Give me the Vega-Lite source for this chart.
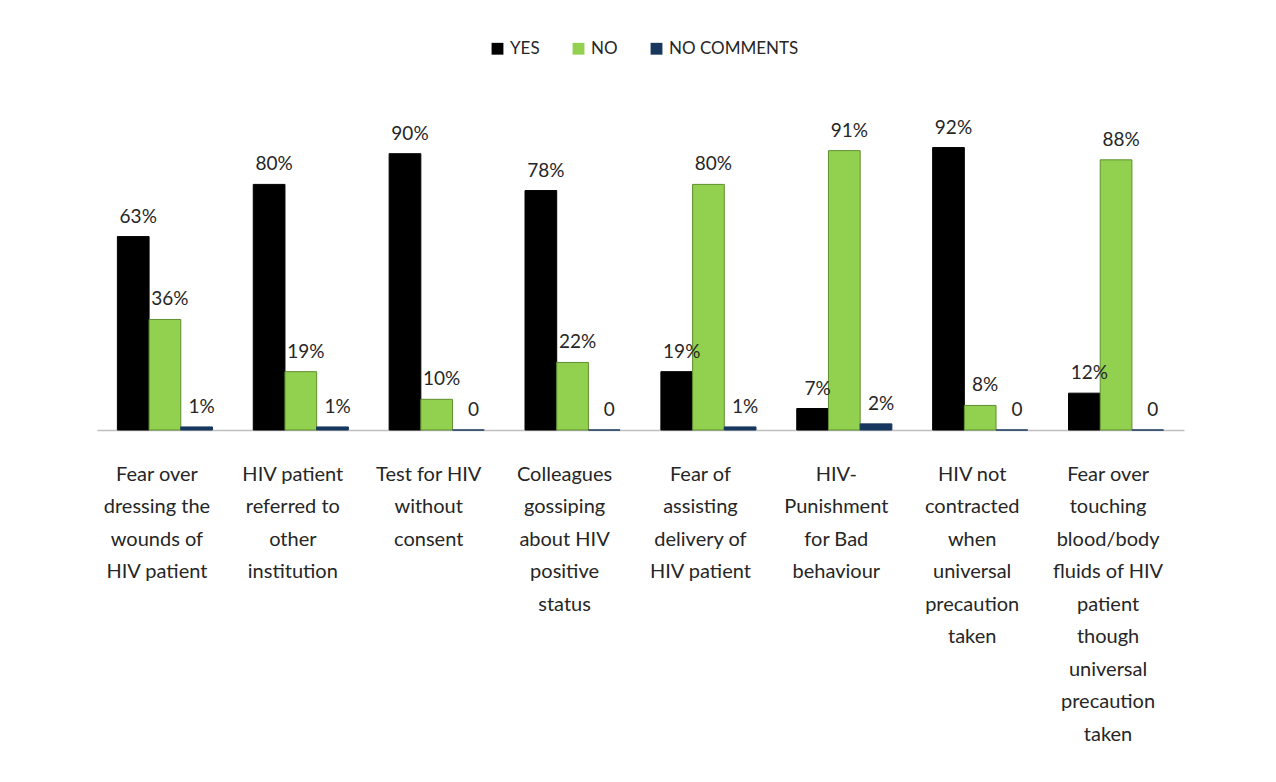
{
  "$schema": "https://vega.github.io/schema/vega-lite/v6.json",
  "width": 1087,
  "height": 307,
  "autosize": {"type": "none"},
  "padding": {"left": 97, "top": 123, "right": 92, "bottom": 352},
  "background": "white",
  "config": {"view": {"stroke": null}, "font": "Lato"},
  "data": {"values": [
    {"category": "Fear over|dressing the|wounds of|HIV patient", "response": "YES", "value": 63, "label": "63%"},
    {"category": "Fear over|dressing the|wounds of|HIV patient", "response": "NO", "value": 36, "label": "36%"},
    {"category": "Fear over|dressing the|wounds of|HIV patient", "response": "NO COMMENTS", "value": 1, "label": "1%"},
    {"category": "HIV patient|referred to|other|institution", "response": "YES", "value": 80, "label": "80%"},
    {"category": "HIV patient|referred to|other|institution", "response": "NO", "value": 19, "label": "19%"},
    {"category": "HIV patient|referred to|other|institution", "response": "NO COMMENTS", "value": 1, "label": "1%"},
    {"category": "Test for HIV|without|consent", "response": "YES", "value": 90, "label": "90%"},
    {"category": "Test for HIV|without|consent", "response": "NO", "value": 10, "label": "10%"},
    {"category": "Test for HIV|without|consent", "response": "NO COMMENTS", "value": 0, "label": "0"},
    {"category": "Colleagues|gossiping|about HIV|positive|status", "response": "YES", "value": 78, "label": "78%"},
    {"category": "Colleagues|gossiping|about HIV|positive|status", "response": "NO", "value": 22, "label": "22%"},
    {"category": "Colleagues|gossiping|about HIV|positive|status", "response": "NO COMMENTS", "value": 0, "label": "0"},
    {"category": "Fear of|assisting|delivery of|HIV patient", "response": "YES", "value": 19, "label": "19%"},
    {"category": "Fear of|assisting|delivery of|HIV patient", "response": "NO", "value": 80, "label": "80%"},
    {"category": "Fear of|assisting|delivery of|HIV patient", "response": "NO COMMENTS", "value": 1, "label": "1%"},
    {"category": "HIV-|Punishment|for Bad|behaviour", "response": "YES", "value": 7, "label": "7%"},
    {"category": "HIV-|Punishment|for Bad|behaviour", "response": "NO", "value": 91, "label": "91%"},
    {"category": "HIV-|Punishment|for Bad|behaviour", "response": "NO COMMENTS", "value": 2, "label": "2%"},
    {"category": "HIV not|contracted|when|universal|precaution|taken", "response": "YES", "value": 92, "label": "92%"},
    {"category": "HIV not|contracted|when|universal|precaution|taken", "response": "NO", "value": 8, "label": "8%"},
    {"category": "HIV not|contracted|when|universal|precaution|taken", "response": "NO COMMENTS", "value": 0, "label": "0"},
    {"category": "Fear over|touching|blood/body|fluids  of HIV|patient|though|universal|precaution|taken", "response": "YES", "value": 12, "label": "12%"},
    {"category": "Fear over|touching|blood/body|fluids  of HIV|patient|though|universal|precaution|taken", "response": "NO", "value": 88, "label": "88%"},
    {"category": "Fear over|touching|blood/body|fluids  of HIV|patient|though|universal|precaution|taken", "response": "NO COMMENTS", "value": 0, "label": "0"}
  ]},
  "encoding": {
    "x": {
      "field": "category", "type": "nominal", "sort": null, "title": null,
      "scale": {"paddingInner": 0.3, "paddingOuter": 0.15},
      "axis": {
        "labelExpr": "split(datum.label, '|')",
        "labelAngle": 0, "labelFontSize": 20, "labelLineHeight": 32.5,
        "labelColor": "#262626", "labelPadding": 34, "labelLimit": 300,
        "labelBaseline": "top", "labelFont": "Lato", "labelOffset": -8,
        "ticks": false, "domainColor": "#bfbfbf", "domainWidth": 1.5
      }
    },
    "xOffset": {"field": "response", "type": "nominal", "sort": ["YES", "NO", "NO COMMENTS"]},
    "y": {"field": "value", "type": "quantitative", "scale": {"domain": [0, 100]}, "axis": null}
  },
  "layer": [
    {
      "mark": {"type": "bar", "strokeWidth": 1},
      "encoding": {
        "color": {
          "field": "response", "type": "nominal",
          "scale": {"domain": ["YES", "NO", "NO COMMENTS"], "range": ["#000000", "#92D050", "#17375E"]},
          "legend": {
            "title": null, "orient": "none", "direction": "horizontal",
            "legendX": 392, "legendY": -83, "symbolType": "square", "symbolSize": 140,
            "symbolStrokeWidth": 0,
            "labelFontSize": 17, "labelColor": "#262626", "labelFont": "Lato", "columnPadding": 30,
            "labelOffset": 4
          }
        },
        "stroke": {"field": "response", "type": "nominal", "scale": {"domain": ["YES", "NO", "NO COMMENTS"], "range": ["#000000", "#5f8f2e", "#17375E"]}, "legend": null}
      }
    },
    {
      "mark": {"type": "text", "dy": -20, "dx": 5, "fontSize": 19, "color": "#262626", "font": "Lato"},
      "encoding": {"text": {"field": "label"}}
    }
  ]
}
